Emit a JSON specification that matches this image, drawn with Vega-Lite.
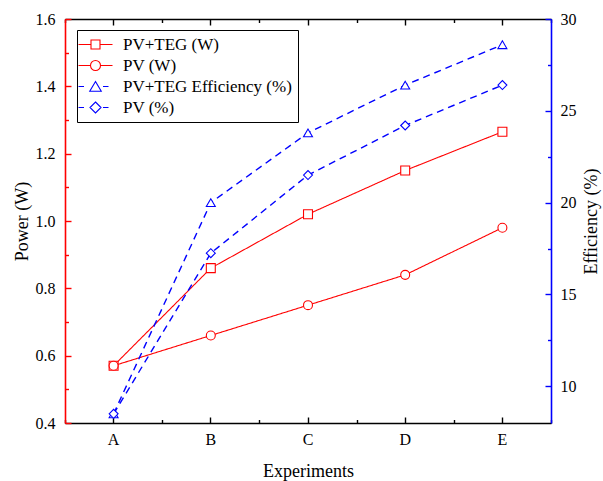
{
  "$schema": "https://vega.github.io/schema/vega-lite/v6.json",
  "width": 486,
  "height": 404,
  "autosize": {"type": "none"},
  "padding": {"left": 65, "top": 19, "right": 52, "bottom": 58},
  "background": "white",
  "config": {
    "font": "Liberation Serif",
    "view": {"stroke": null},
    "axis": {
      "grid": false,
      "labelFont": "Liberation Serif",
      "labelFontSize": 16,
      "labelColor": "black",
      "titleFont": "Liberation Serif",
      "titleFontSize": 18,
      "titleFontWeight": "normal",
      "titleColor": "black",
      "domainWidth": 1.6,
      "tickWidth": 1.4,
      "domainColor": "black",
      "tickColor": "black"
    },
    "legend": {"labelFont": "Liberation Serif", "labelFontSize": 17, "labelColor": "black", "labelLimit": 0}
  },
  "data": {
    "values": [
      {"Experiment": "A", "series": "PV+TEG (W)", "unit": "W", "value": 0.57},
      {"Experiment": "B", "series": "PV+TEG (W)", "unit": "W", "value": 0.86},
      {"Experiment": "C", "series": "PV+TEG (W)", "unit": "W", "value": 1.02},
      {"Experiment": "D", "series": "PV+TEG (W)", "unit": "W", "value": 1.15},
      {"Experiment": "E", "series": "PV+TEG (W)", "unit": "W", "value": 1.265},
      {"Experiment": "A", "series": "PV (W)", "unit": "W", "value": 0.57},
      {"Experiment": "B", "series": "PV (W)", "unit": "W", "value": 0.66},
      {"Experiment": "C", "series": "PV (W)", "unit": "W", "value": 0.75},
      {"Experiment": "D", "series": "PV (W)", "unit": "W", "value": 0.84},
      {"Experiment": "E", "series": "PV (W)", "unit": "W", "value": 0.98},
      {"Experiment": "A", "series": "PV+TEG Efficiency (%)", "unit": "%", "value": 8.5},
      {"Experiment": "B", "series": "PV+TEG Efficiency (%)", "unit": "%", "value": 20.0},
      {"Experiment": "C", "series": "PV+TEG Efficiency (%)", "unit": "%", "value": 23.8},
      {"Experiment": "D", "series": "PV+TEG Efficiency (%)", "unit": "%", "value": 26.4},
      {"Experiment": "E", "series": "PV+TEG Efficiency (%)", "unit": "%", "value": 28.6},
      {"Experiment": "A", "series": "PV (%)", "unit": "%", "value": 8.5},
      {"Experiment": "B", "series": "PV (%)", "unit": "%", "value": 17.25},
      {"Experiment": "C", "series": "PV (%)", "unit": "%", "value": 21.5},
      {"Experiment": "D", "series": "PV (%)", "unit": "%", "value": 24.2},
      {"Experiment": "E", "series": "PV (%)", "unit": "%", "value": 26.4}
    ]
  },
  "layer": [
    {
      "transform": [{"filter": "datum.unit == 'W'"}],
      "layer": [
        {
          "mark": {"type": "line", "strokeWidth": 1.1},
          "encoding": {
            "x": {"field": "Experiment", "type": "nominal", "bandPosition": 0.5,
                  "scale": {"type": "band", "paddingInner": 0, "paddingOuter": 0, "domain": ["A", "B", "C", "D", "E"]},
                  "axis": {"orient": "bottom", "title": "Experiments", "labelAngle": 0, "tickSize": -6, "labelPadding": 14, "titlePadding": 15, "domainColor": "black"}},
            "y": {"field": "value", "type": "quantitative",
                  "scale": {"domain": [0.4, 1.6], "nice": false, "zero": false},
                  "axis": {"orient": "left", "title": "Power (W)", "values": [0.4, 0.6, 0.8, 1.0, 1.2, 1.4, 1.6], "format": ".1f", "tickSize": -6, "labelPadding": 16, "titlePadding": 4, "domainColor": "#ff0000", "tickColor": "#ff0000"}},
            "color": {"field": "series", "type": "nominal",
                      "scale": {"domain": ["PV+TEG (W)", "PV (W)", "PV+TEG Efficiency (%)", "PV (%)"], "range": ["#ff0000", "#ff0000", "#0000ff", "#0000ff"]},
                      "legend": null},
            "strokeDash": {"field": "series", "type": "nominal",
                           "scale": {"domain": ["PV+TEG (W)", "PV (W)", "PV+TEG Efficiency (%)", "PV (%)"], "range": [[1, 0], [1, 0], [7, 5], [7, 5]]},
                           "legend": null}
          }
        },
        {
          "mark": {"type": "point", "filled": false, "fill": "white", "fillOpacity": 1, "size": 80, "strokeWidth": 1.1, "opacity": 1},
          "encoding": {
            "x": {"field": "Experiment", "type": "nominal", "bandPosition": 0.5,
                  "scale": {"type": "band", "paddingInner": 0, "paddingOuter": 0, "domain": ["A", "B", "C", "D", "E"]},
                  "axis": {"orient": "top", "title": null, "labels": false, "tickSize": -6, "domainColor": "black"}},
            "y": {"field": "value", "type": "quantitative",
                  "scale": {"domain": [0.4, 1.6], "nice": false, "zero": false},
                  "axis": {"orient": "left", "title": null, "labels": false, "domain": false, "values": [0.5, 0.7, 0.9, 1.1, 1.3, 1.5], "tickSize": -3.5, "tickColor": "#ff0000"}},
            "color": {"field": "series", "type": "nominal", "legend": null},
            "shape": {"field": "series", "type": "nominal",
                      "scale": {"domain": ["PV+TEG (W)", "PV (W)", "PV+TEG Efficiency (%)", "PV (%)"], "range": ["square", "circle", "triangle-up", "diamond"]},
                      "legend": null}
          }
        }
      ],
      "resolve": {"axis": {"x": "independent", "y": "independent"}}
    },
    {
      "transform": [{"filter": "datum.unit == '%'"}],
      "layer": [
        {
          "mark": {"type": "line", "strokeWidth": 1.4},
          "encoding": {
            "x": {"field": "Experiment", "type": "nominal", "bandPosition": 0.5,
                  "scale": {"type": "band", "paddingInner": 0, "paddingOuter": 0, "domain": ["A", "B", "C", "D", "E"]},
                  "axis": {"orient": "bottom", "title": null, "labels": false, "domain": false, "tickBand": "extent", "tickSize": -3.5}},
            "y": {"field": "value", "type": "quantitative",
                  "scale": {"domain": [8, 30], "nice": false, "zero": false},
                  "axis": {"orient": "right", "title": "Efficiency (%)", "titleAngle": 270, "titleBaseline": "top", "values": [10, 15, 20, 25, 30], "tickSize": -6, "labelPadding": 15, "titlePadding": 6, "domainColor": "#0000ff", "tickColor": "#0000ff"}},
            "color": {"field": "series", "type": "nominal",
                      "scale": {"domain": ["PV+TEG (W)", "PV (W)", "PV+TEG Efficiency (%)", "PV (%)"], "range": ["#ff0000", "#ff0000", "#0000ff", "#0000ff"]},
                      "legend": null},
            "strokeDash": {"field": "series", "type": "nominal",
                           "scale": {"domain": ["PV+TEG (W)", "PV (W)", "PV+TEG Efficiency (%)", "PV (%)"], "range": [[1, 0], [1, 0], [7, 5], [7, 5]]},
                           "legend": null}
          }
        },
        {
          "mark": {"type": "point", "filled": false, "fill": "white", "fillOpacity": 1, "size": 80, "strokeWidth": 1.1, "opacity": 1},
          "encoding": {
            "x": {"field": "Experiment", "type": "nominal", "bandPosition": 0.5,
                  "scale": {"type": "band", "paddingInner": 0, "paddingOuter": 0, "domain": ["A", "B", "C", "D", "E"]},
                  "axis": {"orient": "top", "title": null, "labels": false, "domain": false, "tickBand": "extent", "tickSize": -3.5}},
            "y": {"field": "value", "type": "quantitative",
                  "scale": {"domain": [8, 30], "nice": false, "zero": false},
                  "axis": {"orient": "right", "title": null, "labels": false, "domain": false, "values": [12.5, 17.5, 22.5, 27.5], "tickSize": -3.5, "tickColor": "#0000ff"}},
            "color": {"field": "series", "type": "nominal", "legend": null},
            "shape": {"field": "series", "type": "nominal",
                      "scale": {"domain": ["PV+TEG (W)", "PV (W)", "PV+TEG Efficiency (%)", "PV (%)"], "range": ["square", "circle", "triangle-up", "diamond"]},
                      "legend": null}
          }
        }
      ],
      "resolve": {"axis": {"x": "independent", "y": "independent"}}
    },
    {
      "mark": {"type": "point", "filled": false, "opacity": 0, "size": 100, "strokeWidth": 1.1},
      "encoding": {
        "color": {"field": "series", "type": "nominal",
                  "scale": {"domain": ["PV+TEG (W)", "PV (W)", "PV+TEG Efficiency (%)", "PV (%)"], "range": ["#ff0000", "#ff0000", "#0000ff", "#0000ff"]},
                  "legend": {
                    "title": null, "orient": "none", "legendX": 12, "legendY": 11,
                    "labelFont": "Liberation Serif", "labelFontSize": 17, "labelColor": "black", "labelLimit": 0,
                    "symbolSize": 100, "symbolOpacity": 1, "symbolStrokeWidth": 1.1,
                    "labelOffset": 23, "padding": 6, "rowPadding": 3,
                    "strokeColor": "black", "fillColor": "white"
                  }},
        "shape": {"field": "series", "type": "nominal",
                  "scale": {"domain": ["PV+TEG (W)", "PV (W)", "PV+TEG Efficiency (%)", "PV (%)"],
                            "range": [
                              "M-2.6,0H-0.1M1.7,0H4.2M-0.1,-0.9H1.7V0.9H-0.1Z",
                              "M-2.6,0H-0.2M1.8,0H4.2M-0.2,0A1,1 0 1,0 1.8,0A1,1 0 1,0 -0.2,0Z",
                              "M-2.6,0H-1.5M2.3,0H3.4M0.8,-1L1.95,0.95H-0.35Z",
                              "M-2.6,0H-1.5M2.3,0H3.4M0.8,-1.1L1.9,0L0.8,1.1L-0.3,0Z"
                            ]},
                  "legend": {
                    "title": null, "orient": "none", "legendX": 12, "legendY": 11,
                    "labelFont": "Liberation Serif", "labelFontSize": 17, "labelColor": "black", "labelLimit": 0,
                    "symbolSize": 100, "symbolOpacity": 1, "symbolStrokeWidth": 1.1,
                    "labelOffset": 23, "padding": 6, "rowPadding": 3,
                    "strokeColor": "black", "fillColor": "white"
                  }}
      }
    }
  ],
  "resolve": {
    "scale": {"y": "independent", "color": "independent", "shape": "independent", "strokeDash": "independent"},
    "axis": {"x": "independent", "y": "independent"},
    "legend": {"color": "independent", "shape": "independent", "strokeDash": "independent"}
  }
}
